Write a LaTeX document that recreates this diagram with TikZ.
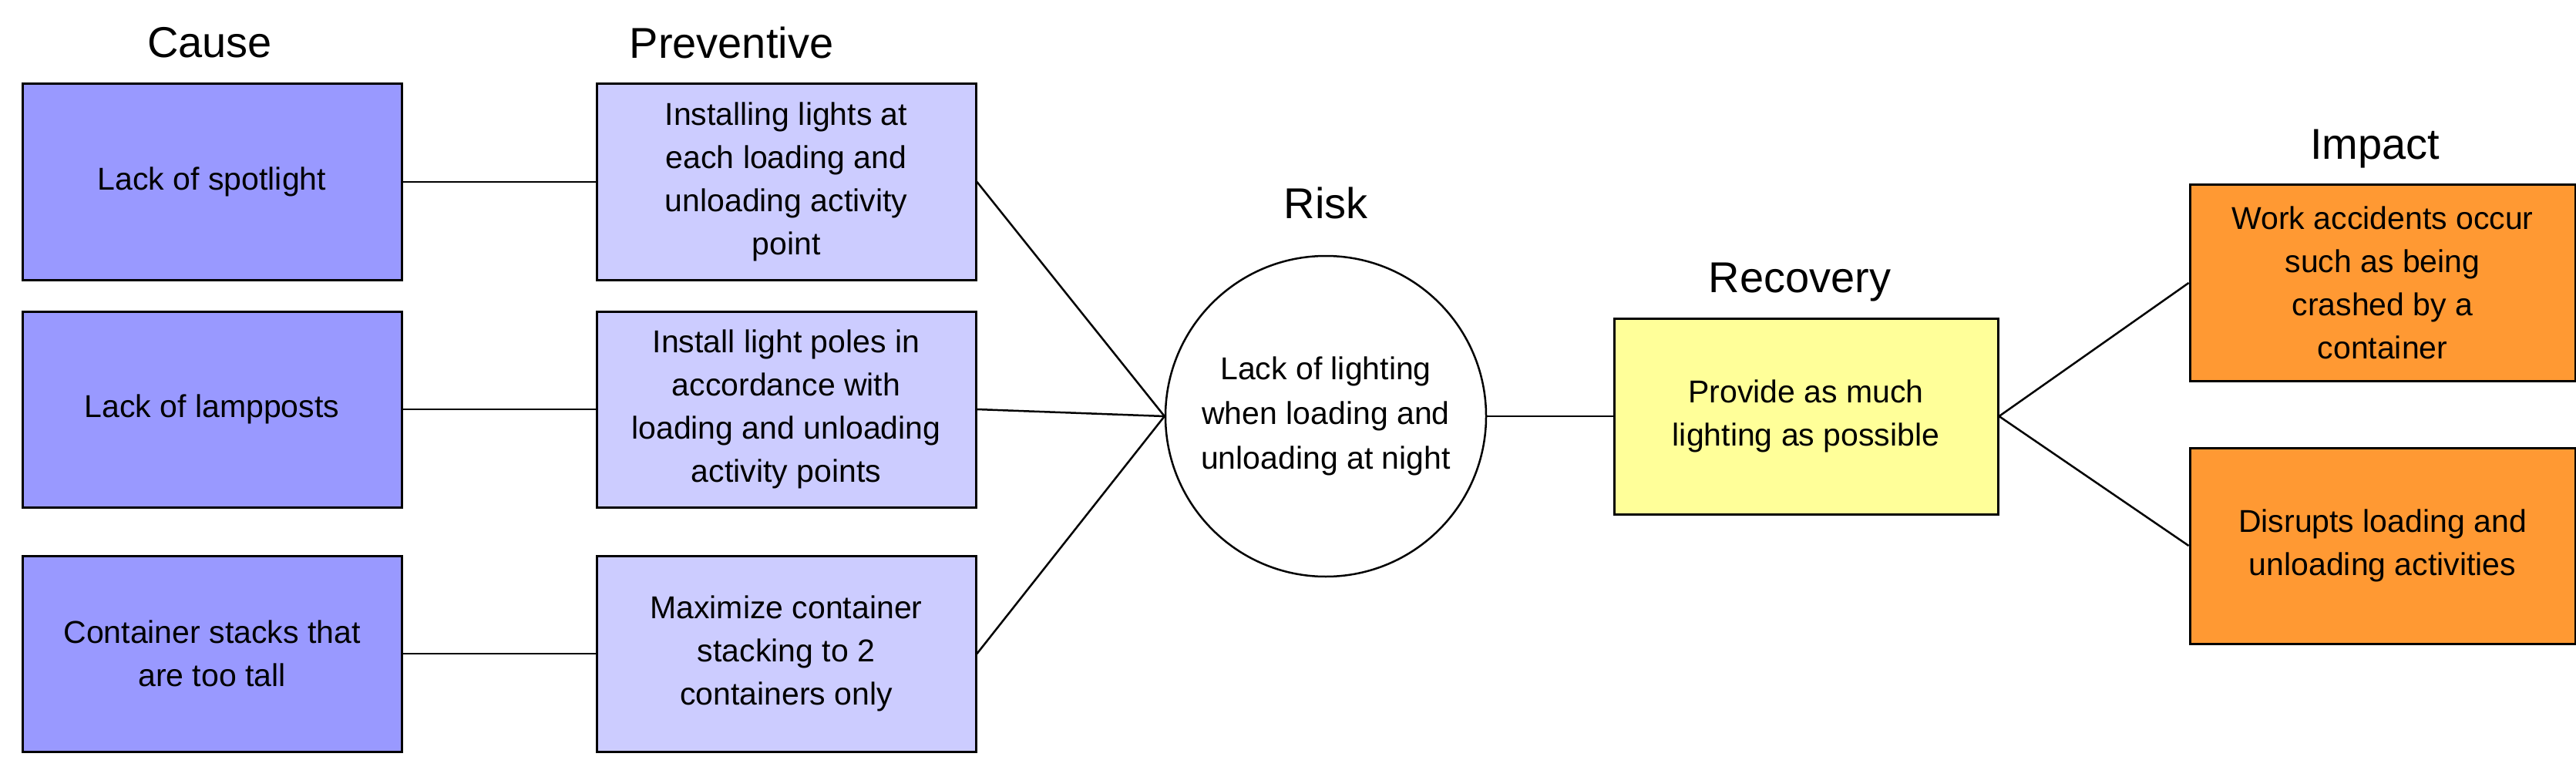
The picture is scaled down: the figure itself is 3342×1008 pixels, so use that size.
\documentclass[tikz,border=0pt]{standalone}
\usepackage{fontspec}
\setmainfont{Liberation Sans}
\begin{document}
\begin{tikzpicture}[x=1pt,y=-1pt,
  box/.style={draw=black,line width=3pt,minimum width=492pt,minimum height=254pt,align=center,inner sep=2pt,font=\fontsize{41}{56}\selectfont},
  cause/.style={box,fill={rgb,255:red,153;green,153;blue,255}},
  prev/.style={box,fill={rgb,255:red,204;green,204;blue,255}},
  reco/.style={box,minimum width=498pt,fill={rgb,255:red,255;green,255;blue,153}},
  imp/.style={box,minimum width=500pt,fill={rgb,255:red,255;green,153;blue,51}},
  ttl/.style={font=\fontsize{56}{60}\selectfont},
  ln/.style={line width=2.5pt}]
\useasboundingbox (0,0) rectangle (3342,1008);
\node[ttl] (tc) at (272,55) {Cause};
\node[ttl] (tp) at (949,55) {Preventive};
\node[ttl] (tr) at (1720,263) {Risk};
\node[ttl] (trc) at (2335,366) {Recovery};
\node[ttl] (ti) at (3081,193) {Impact};
\node[cause] (c1) at (275,236) {Lack of spotlight};
\node[cause] (c2) at (275,531) {Lack of lampposts};
\node[cause] (c3) at (275,848) {Container stacks that\\are too tall};
\node[prev] (p1) at (1020,236) {Installing lights at\\each loading and\\unloading activity\\point};
\node[prev] (p2) at (1020,531) {Install light poles in\\accordance with\\loading and unloading\\activity points};
\node[prev] (p3) at (1020,848) {Maximize container\\stacking to 2\\containers only};
\node[draw=black,line width=2.5pt,circle,minimum size=416pt,inner sep=0pt,align=center,font=\fontsize{41}{58}\selectfont] (r) at (1720,540) {Lack of lighting\\when loading and\\unloading at night};
\node[reco] (rc) at (2343,540) {Provide as much\\lighting as possible};
\node[imp] (i1) at (3091,367) {Work accidents occur\\such as being\\crashed by a\\container};
\node[imp] (i2) at (3091,708) {Disrupts loading and\\unloading activities};
\draw[ln] (c1) -- (p1);
\draw[ln] (c2) -- (p2);
\draw[ln] (c3) -- (p3);
\draw[ln] (p1.east) -- (r.west);
\draw[ln] (p2.east) -- (r.west);
\draw[ln] (p3.east) -- (r.west);
\draw[ln] (r.east) -- (rc.west);
\draw[ln] (rc.east) -- (i1.west);
\draw[ln] (rc.east) -- (i2.west);
\end{tikzpicture}
\end{document}
